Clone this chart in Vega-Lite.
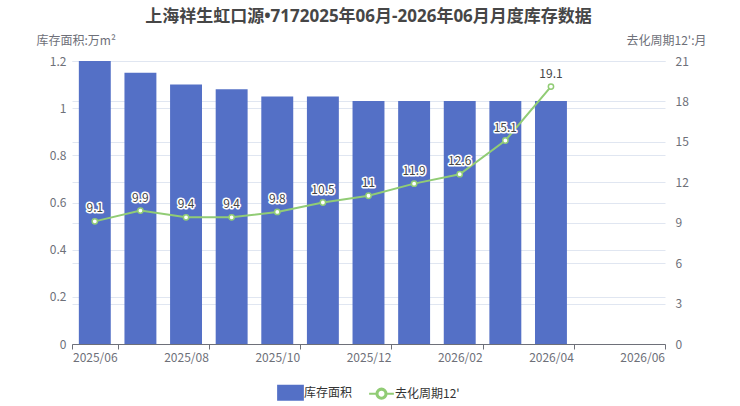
{
  "$schema": "https://vega.github.io/schema/vega-lite/v6.json",
  "width": 593,
  "height": 283,
  "autosize": {"type": "none"},
  "padding": {"left": 72, "top": 61, "right": 75, "bottom": 62},
  "background": "white",
  "config": {
    "font": "Noto Sans CJK SC",
    "view": {"stroke": null},
    "axis": {
      "labelColor": "#6e7079",
      "labelFontSize": 12,
      "titleColor": "#6e7079",
      "titleFontSize": 12,
      "titleFontWeight": "normal",
      "gridColor": "#e0e6f1",
      "gridWidth": 1
    }
  },
  "title": {
    "text": "上海祥生虹口源•7172025年06月-2026年06月月度库存数据",
    "font": "Noto Sans, Noto Sans CJK SC",
    "fontSize": 17,
    "fontWeight": "bold",
    "color": "#464646",
    "anchor": "middle",
    "frame": "group",
    "offset": 8
  },
  "data": {
    "values": [
      {"month": "2025/06", "area": 1.2, "cycle": 9.1},
      {"month": "2025/07", "area": 1.15, "cycle": 9.9},
      {"month": "2025/08", "area": 1.1, "cycle": 9.4},
      {"month": "2025/09", "area": 1.08, "cycle": 9.4},
      {"month": "2025/10", "area": 1.05, "cycle": 9.8},
      {"month": "2025/11", "area": 1.05, "cycle": 10.5},
      {"month": "2025/12", "area": 1.03, "cycle": 11},
      {"month": "2026/01", "area": 1.03, "cycle": 11.9},
      {"month": "2026/02", "area": 1.03, "cycle": 12.6},
      {"month": "2026/03", "area": 1.03, "cycle": 15.1},
      {"month": "2026/04", "area": 1.03, "cycle": 19.1}
    ]
  },
  "encoding": {
    "x": {
      "field": "month",
      "type": "ordinal",
      "sort": null,
      "scale": {
        "domain": ["2025/06", "2025/07", "2025/08", "2025/09", "2025/10", "2025/11", "2025/12", "2026/01", "2026/02", "2026/03", "2026/04", "2026/05", "2026/06"],
        "paddingInner": 0,
        "paddingOuter": 0
      },
      "axis": {
        "title": null,
        "values": ["2025/06", "2025/08", "2025/10", "2025/12", "2026/02", "2026/04", "2026/06"],
        "labelAngle": 0,
        "tickBand": "extent",
        "domainColor": "#6e7079",
        "tickColor": "#6e7079",
        "tickSize": 5,
        "labelPadding": 3,
        "grid": false
      }
    }
  },
  "layer": [
    {
      "mark": {"type": "bar", "color": "#5470c6", "width": {"band": 0.7}},
      "encoding": {
        "y": {
          "field": "area",
          "type": "quantitative",
          "scale": {"domain": [0, 1.2], "nice": false},
          "axis": {
            "title": "库存面积:万m²",
            "titleAngle": 0,
            "titleAlign": "left",
            "titleBaseline": "middle",
            "titleX": -36,
            "titleY": -21,
            "values": [0, 0.2, 0.4, 0.6, 0.8, 1, 1.2],
            "format": "~g",
            "domain": false,
            "ticks": false,
            "labelPadding": 6,
            "grid": true
          }
        },
        "color": {
          "datum": "库存面积",
          "type": "nominal",
          "scale": {"domain": ["库存面积", "去化周期12'"], "range": ["#5470c6", "#91cc75"]},
          "legend": {
            "orient": "none",
            "direction": "horizontal",
            "legendX": 210,
            "legendY": 323,
            "title": null,
            "labelFontSize": 12,
            "labelColor": "#333333",
            "symbolSize": 200,
            "columnPadding": 12,
            "labelOffset": 5,
            "encode": {
              "symbols": {
                "update": {
                  "shape": {"signal": "datum.value === '库存面积' ? 'M-1.75,-1H1.75V1H-1.75Z' : 'M-1.75,0H-0.72M0.72,0H1.75M-0.72,0A0.72,0.72 0 1,1 0.72,0A0.72,0.72 0 1,1 -0.72,0ZM-0.56,0A0.56,0.56 0 1,0 0.56,0A0.56,0.56 0 1,0 -0.56,0Z'"},
                  "fillOpacity": {"value": 1},
                  "strokeWidth": {"value": 2},
                  "opacity": {"value": 1}
                }
              }
            }
          }
        }
      }
    },
    {
      "encoding": {
        "y": {
          "field": "cycle",
          "type": "quantitative",
          "scale": {"domain": [0, 21], "nice": false},
          "axis": {
            "orient": "right",
            "title": "去化周期12':月",
            "titleAngle": 0,
            "titleAlign": "right",
            "titleBaseline": "middle",
            "titleX": 41,
            "titleY": -21,
            "values": [0, 3, 6, 9, 12, 15, 18, 21],
            "domain": false,
            "ticks": false,
            "labelPadding": 10,
            "grid": true
          }
        }
      },
      "layer": [
        {
          "mark": {"type": "line", "color": "#91cc75", "strokeWidth": 2},
          "encoding": {
            "color": {"datum": "去化周期12'", "type": "nominal"}
          }
        },
        {
          "mark": {"type": "point", "filled": true, "fill": "white", "stroke": "#91cc75", "strokeWidth": 1.5, "size": 28, "opacity": 1}
        },
        {
          "mark": {"type": "text", "dy": -13, "fontSize": 12, "stroke": "white", "strokeWidth": 3, "strokeJoin": "round", "color": "white"},
          "encoding": {"text": {"field": "cycle", "type": "quantitative"}}
        },
        {
          "mark": {"type": "text", "dy": -13, "fontSize": 12, "color": "#464646"},
          "encoding": {"text": {"field": "cycle", "type": "quantitative"}}
        }
      ]
    }
  ],
  "resolve": {"scale": {"y": "independent"}}
}
